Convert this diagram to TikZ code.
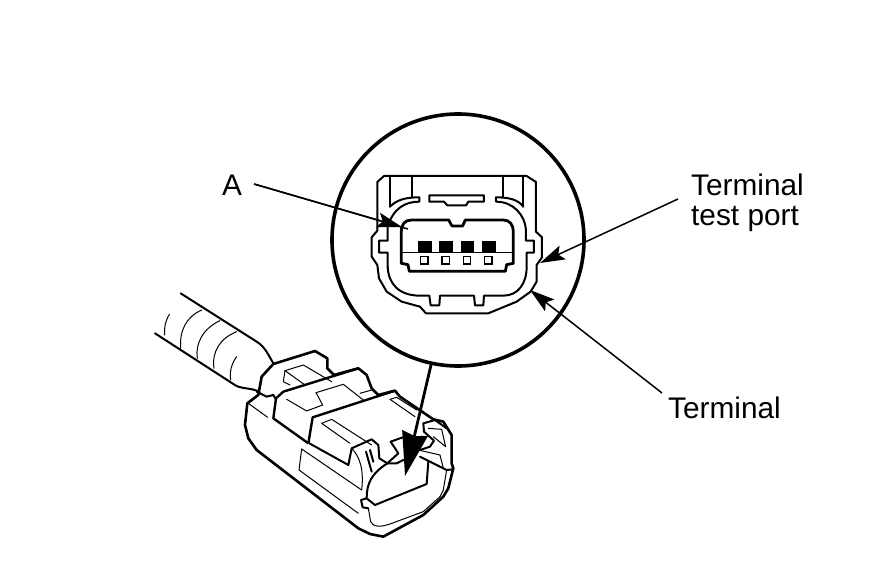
\documentclass[tikz,border=0pt]{standalone}
\usepackage{fontspec}
\setmainfont{Liberation Sans}
\usetikzlibrary{arrows.meta}
\tikzset{
  thick line/.style={line width=2.6pt,line join=round,line cap=round},
  mid line/.style={line width=2pt,line join=round,line cap=round},
  thin line/.style={line width=1pt,line join=round,line cap=round},
  leader/.style={line width=1.5pt,-{Stealth[length=25pt,width=15pt,inset=5pt]}},
  lab/.style={font=\fontsize{29.8}{30}\selectfont,inner sep=0pt,align=left,anchor=west},
  zoomA/.style={shift={(280,400)},x=0.3333pt,y=-0.3333pt},
  zoomB/.style={shift={(240,340)},x=0.3333pt,y=-0.3333pt}
}
\begin{document}
\begin{tikzpicture}[x=1pt,y=-1pt]
\useasboundingbox (0,0) rectangle (880,580);
\fill[white] (0,0) rectangle (880,580);
% magnifier circle
\draw[line width=3.6pt] (458,240) circle (126);
% port view
\begin{scope}[shift={(340,150)},x=0.3333pt,y=-0.3333pt]
\draw[mid line] (132,78) -- (560,78) -- (588,96) -- (588,245) -- (606,262) -- (606,322) -- (590,345) -- (590,395) -- (572,425) -- (530,455) -- (445,490) -- (258,490) -- (240,470) -- (185,455) -- (140,425) -- (117,385) -- (112,345) -- (95,320) -- (95,262) -- (112,242) -- (112,96) -- cycle;
\draw[mid line] (150,78) -- (150,170);
\draw[mid line] (215,78) -- (215,140);
\draw[mid line] (488,78) -- (488,140);
\draw[mid line] (550,78) -- (550,170);
\draw[mid line] (150,170) .. controls (170,150) and (195,142) .. (238,142) -- (238,155) .. controls (195,155) and (160,175) .. (143,230) -- (143,272) -- (117,272) -- (117,308) -- (143,308) -- (143,350);
\draw[mid line] (143,350) .. controls (145,400) and (175,437) .. (240,437) -- (268,437) -- (272,466) -- (298,466) -- (300,437) -- (402,437) -- (405,466) -- (430,466) -- (432,437) -- (490,437) .. controls (535,437) and (560,400) .. (560,350) -- (560,308) -- (582,308) -- (582,272) -- (558,272) -- (558,240) .. controls (555,195) and (520,155) .. (468,155) -- (468,142) .. controls (510,142) and (535,150) .. (550,170);
\draw[mid line] (268,136) -- (432,136) -- (432,155) -- (385,155) -- (378,166) -- (322,166) -- (312,155) -- (268,155) -- cycle;
\draw[line width=2.8pt,line join=round] (184,340) -- (184,245) .. controls (184,222) and (195,210) .. (215,210) -- (326,210) -- (336,228) -- (368,228) -- (376,210) -- (490,210) .. controls (510,210) and (520,225) .. (520,245) -- (520,340) -- (500,344) -- (496,364) -- (208,364) -- (204,344) -- cycle;
\draw[line width=1.2pt] (187,307) -- (518,307);
\foreach \px in {234,298,362,426}{
  \fill (\px,273) rectangle ++(41,34);
  \draw[line width=1.6pt] (\px+8,320) rectangle ++(22,22);
}
\end{scope}
% wire and outer body
\begin{scope}[shift={(140,280)},x=0.3333pt,y=-0.3333pt]
\draw[mid line] (122,40) -- (350,185) .. controls (375,200) and (385,225) .. (400,250);
\draw[mid line] (45,160) -- (280,312) .. controls (300,328) and (330,322) .. (358,335);
\draw[thin line] (88,103) .. controls (75,125) and (72,145) .. (74,165);
\draw[thin line] (185,90) .. controls (140,110) and (118,150) .. (122,205);
\draw[thin line] (240,122) .. controls (190,145) and (165,190) .. (172,235);
\draw[thin line] (290,155) .. controls (240,175) and (215,215) .. (222,265);
\draw[thin line] (290,230) .. controls (275,250) and (268,275) .. (272,300);
\draw[line width=2.6pt,line join=round] (400,252) -- (525,213) -- (562,235) -- (562,265) -- (582,285) -- (655,265) -- (680,285) -- (695,325) -- (715,345) -- (765,332) -- (780,350) -- (880,418) -- (910,425) -- (935,465) -- (935,550) -- (940,565) -- (925,625) -- (910,650) -- (850,705) -- (730,770) -- (690,762) -- (655,745) -- (350,510) -- (325,475) -- (315,435) -- (322,370) -- (355,345) -- (365,290) -- cycle;
\end{scope}
% clips
\begin{scope}[zoomB]
\draw[mid line] (50,155) -- (80,170) -- (100,165) -- (108,178);
\draw[thin line] (25,190) -- (83,232);
\draw[line width=2.4pt,line join=round] (205,310) -- (100,235) -- (108,175) -- (130,155) -- (355,85);
\draw[thin line] (135,92) -- (190,75) -- (275,125);
\draw[thin line] (135,92) -- (130,125) -- (150,135);
\draw[thin line] (135,92) -- (195,135);
\draw[thin line] (228,158) -- (310,133) -- (370,180);
\draw[thin line] (228,158) -- (248,195) -- (200,213) -- (140,178);
\draw[thin line] (360,160) -- (395,150);
\draw[line width=2.4pt,line join=round] (205,310) -- (218,232) -- (465,152);
\draw[thin line] (245,250) -- (275,238) -- (395,315);
\draw[thin line] (245,250) -- (330,310);
\draw[thin line] (450,178) -- (470,172) -- (530,210);
\draw[thin line] (450,178) -- (525,230);
\end{scope}
\begin{scope}[zoomA]
\draw[thin line] (65,147) -- (57,210) -- (235,340);
\draw[thin line] (65,147) -- (245,270);
\draw[thin line] (215,145) .. controls (240,170) and (252,210) .. (245,270);
\draw[mid line] (88,130) -- (205,195) -- (215,145) -- (275,118) -- (295,135) -- (298,175) -- (322,190) -- (355,160) -- (332,125) -- (360,115) -- (375,110);
\draw[mid line] (258,155) -- (275,215);
\draw[mid line] (270,150) -- (280,185);
\draw[mid line] (322,190) -- (350,190) -- (370,180);
\draw[mid line] (322,190) .. controls (275,220) and (260,250) .. (260,295) -- (285,315) -- (440,252) -- (445,185);
\draw[mid line] (260,295) -- (243,300) -- (248,322) -- (265,325);
\draw[thin line] (265,325) -- (272,365) .. controls (280,382) and (300,382) .. (330,372) -- (430,335) -- (480,290) -- (490,270) -- (500,210);
\draw[thin line] (415,150) -- (480,165) -- (490,205);
\draw[mid line] (420,170) -- (500,210) -- (518,208);
\draw[mid line] (430,70) -- (465,60) -- (500,85);
\draw[mid line] (430,70) -- (432,95) -- (462,122) -- (450,140) -- (420,150);
\draw[thin line] (445,85) -- (485,88) -- (497,140) -- (460,110);
\end{scope}
% labels and leaders
\node[lab] (a) at (222,185) {A};
\node[lab] (ttp) at (691,203) {Terminal\\[0pt]test port};
\node[lab] (term) at (668,408) {Terminal};
\coordinate (ttpfrom) at (678,199);
\coordinate (ttpto) at (540,263);
\coordinate (aend) at (408,229);
\coordinate (ahead) at (402,227);
\coordinate (afrom) at (254,184);
\coordinate (termfrom) at (662,393);
\coordinate (termto) at (530,290);
\coordinate (circ) at (431,365);
\coordinate (plug) at (405,476);
\draw[line width=1.5pt] (afrom) -- (aend);
\draw[leader] (afrom) -- (ahead);
\draw[leader] (ttpfrom) -- (ttpto);
\draw[leader] (termfrom) -- (termto);
\draw[line width=2.8pt,-{Stealth[length=44pt,width=26pt,inset=3pt]}] (circ) -- (plug);
\end{tikzpicture}
\end{document}
